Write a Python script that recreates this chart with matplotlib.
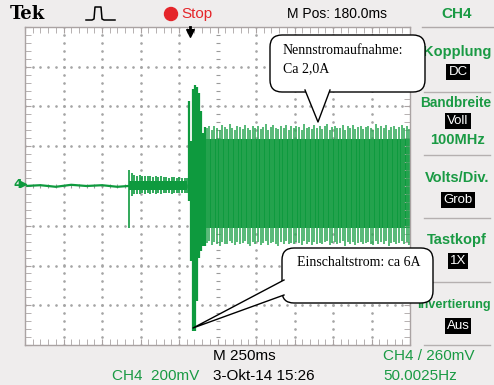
import numpy as np
import matplotlib.pyplot as plt
from matplotlib.patches import FancyBboxPatch, Polygon, Circle
from matplotlib.ticker import MultipleLocator

# scope trace, x in divisions (250 ms/div), y in divisions (200 mV/div)
idle_t = [0.0, 0.4, 0.8, 1.2, 1.6, 2.0, 2.4, 2.68]
idle_v = [0.0, 0.02, -0.02, 0.03, 0.0, 0.02, -0.02, 0.0]

pre_t0, pre_t1 = 2.70, 4.22
pre_top = [0.40, 0.32, 0.28, 0.26, 0.27, 0.25, 0.26, 0.24, 0.25, 0.23, 0.25, 0.23,
           0.24, 0.22, 0.23, 0.21, 0.23, 0.22, 0.21, 0.22, 0.21, 0.20, 0.21]
pre_bot = [-1.05, -0.24, -0.21, -0.19, -0.21, -0.18, -0.20, -0.18, -0.19, -0.17, -0.19, -0.18,
           -0.19, -0.17, -0.18, -0.17, -0.19, -0.17, -0.18, -0.17, -0.18, -0.17, -0.18]

burst_t = [4.26, 4.31, 4.36, 4.42, 4.47, 4.52, 4.57, 4.62, 4.68]
burst_top = [2.15, 1.13, 2.45, 2.55, 2.50, 2.34, 1.89, 1.33, 1.48]
burst_bot = [-0.38, -1.89, -3.65, -3.65, -2.89, -1.81, -1.64, -1.51, -1.51]

main_t0, main_t1 = 4.72, 9.98
main_top = [1.45, 1.50, 1.42, 1.52, 1.47, 1.40, 1.53, 1.48, 1.44, 1.55, 1.46, 1.41, 1.51, 1.49, 1.43, 1.54, 1.47, 1.42, 1.50, 1.45,
            1.52, 1.44, 1.48, 1.55, 1.41, 1.49, 1.53, 1.46, 1.43, 1.51, 1.47, 1.54, 1.42, 1.50, 1.45, 1.52, 1.48, 1.41, 1.56, 1.46,
            1.49, 1.43, 1.53, 1.47, 1.51, 1.44, 1.50, 1.55, 1.42, 1.48, 1.52, 1.45, 1.47, 1.53, 1.41, 1.50, 1.46, 1.54, 1.43, 1.49,
            1.51, 1.44, 1.48, 1.52, 1.46, 1.42, 1.55, 1.47, 1.50, 1.45, 1.53, 1.41, 1.49, 1.51, 1.44, 1.48, 1.54, 1.46, 1.50, 1.43]
main_bot = [-1.44, -1.39, -1.48, -1.42, -1.46, -1.50, -1.40, -1.45, -1.47, -1.38, -1.44, -1.49, -1.41, -1.46, -1.43, -1.39, -1.47, -1.50, -1.42, -1.45,
            -1.40, -1.48, -1.44, -1.39, -1.49, -1.43, -1.41, -1.46, -1.50, -1.42, -1.45, -1.38, -1.47, -1.43, -1.46, -1.40, -1.44, -1.49, -1.39, -1.45,
            -1.42, -1.48, -1.41, -1.45, -1.43, -1.47, -1.40, -1.38, -1.49, -1.44, -1.41, -1.46, -1.44, -1.39, -1.50, -1.42, -1.45, -1.40, -1.48, -1.43,
            -1.41, -1.47, -1.44, -1.40, -1.46, -1.49, -1.38, -1.45, -1.42, -1.46, -1.39, -1.50, -1.43, -1.41, -1.47, -1.44, -1.38, -1.45, -1.42, -1.48]
core_top, core_bot = 1.18, -1.05

GREEN = '#0e9a3e'
LABEL = '#1a9a44'
BG = '#efeded'
SANS = 'Liberation Sans'
SERIF = 'Liberation Serif'

fig = plt.figure(figsize=(4.94, 3.85), dpi=100)
fig.patch.set_facecolor(BG)

ax = fig.add_axes([25 / 494, 40 / 385, 385 / 494, 318 / 385])
ax.set_facecolor('white')
ax.set_xlim(0, 10)
ax.set_ylim(-4, 4)
for s in ax.spines.values():
    s.set_color('#aaa3a3')
    s.set_linewidth(1.0)
ax.xaxis.set_major_locator(MultipleLocator(1))
ax.xaxis.set_minor_locator(MultipleLocator(0.2))
ax.yaxis.set_major_locator(MultipleLocator(1))
ax.yaxis.set_minor_locator(MultipleLocator(0.2))
ax.tick_params(which='both', direction='in', top=True, right=True, length=4,
               color='#aaa3a3', labelbottom=False, labelleft=False)

# graticule dots
steps = np.arange(0, 10.01, 0.2)
vsteps = np.arange(-4, 4.01, 0.2)
for gx in range(1, 10):
    if gx == 5:
        ax.scatter([5] * len(vsteps), vsteps, marker='_', s=12, color='#9a9a9a', lw=0.8)
    else:
        ax.scatter([gx] * len(vsteps), vsteps, s=0.8, color='#a5a5a5')
for gy in range(-3, 4):
    if gy == 0:
        ax.scatter(steps, [0] * len(steps), marker='|', s=12, color='#9a9a9a', lw=0.8)
    else:
        ax.scatter(steps, [gy] * len(steps), s=0.8, color='#a5a5a5')

# trace
ax.plot(idle_t, idle_v, color=GREEN, lw=1.6)
pre_t = np.linspace(pre_t0, pre_t1, len(pre_top))
ax.fill_between(pre_t, 0.12, -0.1, color=GREEN, lw=0)
ax.vlines(pre_t, pre_bot, pre_top, color=GREEN, lw=1.2)
ax.vlines(burst_t, burst_bot, burst_top, color=GREEN, lw=1.6)
main_t = np.linspace(main_t0, main_t1, len(main_top))
ax.fill_between([4.60, 10], core_top, core_bot, color=GREEN, lw=0)
ax.vlines(main_t, main_bot, main_top, color='#2aa552', lw=1.1)

# overlay in pixel coordinates
ov = fig.add_axes([0, 0, 1, 1], zorder=5)
ov.set_xlim(0, 494)
ov.set_ylim(385, 0)
ov.axis('off')
ov.patch.set_alpha(0)

# header
ov.text(10, 14, 'Tek', fontsize=13, fontweight='bold', family='DejaVu Serif', va='center')
ov.plot([86, 92, 94, 95, 101, 102, 104, 115], [20, 20, 19, 7, 7, 19, 20, 20], color='black', lw=1.1)
ov.add_patch(Circle((171, 14), 6.5, color='#e5252a'))
ov.text(181, 14, 'Stop', fontsize=11, color='#e5252a', va='center', family=SANS)
ov.text(287, 14, 'M Pos: 180.0ms', fontsize=10, va='center', family=SANS)
ov.text(457, 14, 'CH4', fontsize=11, color=LABEL, va='center', ha='center', fontweight='bold', family=SANS)
ov.plot([422, 494], [27, 27], color='#b0aaaa', lw=1)
ov.plot([190, 190], [27, 32], color='black', lw=2)
ov.scatter([190], [33], marker='v', s=30, color='black')

# channel marker
ov.text(13, 184, '4', fontsize=9, color=GREEN, fontweight='bold', va='center')
ov.scatter([23], [184], marker='>', s=18, color=GREEN)

# side menu
menu = [('Kopplung', 52, 10.5, 457), ('Bandbreite', 103, 9.8, 456), ('100MHz', 140, 10.5, 457),
        ('Volts/Div.', 178, 10.5, 457), ('Tastkopf', 240, 10.5, 457), ('Invertierung', 305, 9.2, 454)]
for label, y, fs, cx in menu:
    ov.text(cx, y, label, fontsize=fs, color=LABEL, ha='center', va='center', fontweight='bold', family=SANS)
boxes = [('DC', 72), ('Voll', 121), ('Grob', 200), ('1X', 261), ('Aus', 326)]
for label, y in boxes:
    ov.text(458, y, label, fontsize=9.5, color='white', ha='center', va='center', family=SANS,
            bbox=dict(boxstyle='square,pad=0.15', fc='black', ec='none'))
for y in [92, 155, 218, 282, 345]:
    ov.plot([424, 490], [y, y], color='#b5b0b0', lw=1)

# footer
ov.text(213, 356, 'M 250ms', fontsize=11, va='center', family=SANS)
ov.text(383, 356, 'CH4 / 260mV', fontsize=11, color=LABEL, va='center', family=SANS)
ov.text(112, 376, 'CH4  200mV', fontsize=11, color=LABEL, va='center', family=SANS)
ov.text(213, 376, '3-Okt-14 15:26', fontsize=11, va='center', family=SANS)
ov.text(383, 376, '50.0025Hz', fontsize=11, color=LABEL, va='center', family=SANS)


def callout(x0, y0, x1, y1, base, tip):
    ov.add_patch(FancyBboxPatch((x0, y0), x1 - x0, y1 - y0, boxstyle='round,pad=0,rounding_size=12',
                                fc='white', ec='black', lw=1.0, zorder=3))
    ov.add_patch(Polygon([base[0], base[1], tip], closed=True, fc='white', ec='none', zorder=3))
    ov.plot([base[0][0], tip[0], base[1][0]], [base[0][1], tip[1], base[1][1]], color='black', lw=1.0, zorder=3)


callout(270, 35, 425, 92, [(305, 90), (330, 90)], (318, 122))
ov.text(283, 50, 'Nennstromaufnahme:', fontsize=10, family=SERIF, va='center', zorder=4)
ov.text(283, 69, 'Ca 2,0A', fontsize=10, family=SERIF, va='center', zorder=4)

callout(282, 248, 433, 303, [(284, 280), (284, 295)], (193, 328))
ov.text(297, 263, 'Einschaltstrom: ca 6A', fontsize=10, family=SERIF, va='center', zorder=4)

fig.savefig('out.png', dpi=100, facecolor=BG)
